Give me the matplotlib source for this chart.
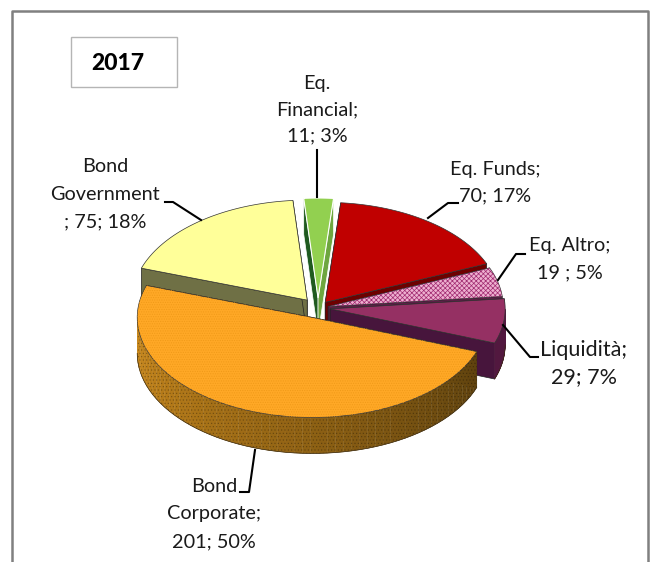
import numpy as np
import matplotlib
matplotlib.use('Agg')
import matplotlib.pyplot as plt
from matplotlib.patches import Polygon, Rectangle
from matplotlib.colors import to_rgb

categories = ['Eq. Financial', 'Eq. Funds', 'Eq. Altro', 'Liquidità', 'Bond Corporate', 'Bond Government']
values = [11, 70, 19, 29, 201, 75]
explode = [0.10, 0.07, 0.06, 0.07, 0.10, 0.10]
top_colors = ['#92d050', '#c00000', '#eeb0d0', '#953063', '#ffa826', '#ffff99']
wall_colors = ['#1f5a1f', '#6e0000', '#5a1f45', '#47153c', '#7a5010', '#6f7045']
hatches = [None, None, 'xxxxxxx', None, '.......', None]
draw_order = [5, 0, 1, 2, 3, 4]

plt.rcParams['font.family'] = ['Lato', 'DejaVu Sans']
plt.rcParams['hatch.linewidth'] = 0.5

cx, cy = 318, 308
rx, ry = 175, 100
depth = 36
start = -4.7

fig = plt.figure(figsize=(6.53, 5.62), dpi=100)
ax = fig.add_axes([0, 0, 1, 1])
ax.set_xlim(0, 653)
ax.set_ylim(562, 0)
ax.axis('off')

# outer frame, open at the bottom
ax.plot([12, 12, 648, 648], [562, 11, 11, 562], color='#808080', lw=1.8)
ax.add_patch(Rectangle((71, 37), 106, 50, fc='white', ec='#b5b5b5', lw=1))
ax.text(118, 64, '2017', fontsize=16.5, fontweight='black', ha='center', va='center', color='black')

total = sum(values)
edges = start + np.cumsum([0] + values) / total * 360


def point(t, i, r=1.0):
    # t in degrees clockwise from the top of the pie
    mid = np.radians((edges[i] + edges[i + 1]) / 2)
    a = np.radians(t)
    x = cx + rx * (explode[i] * np.sin(mid) + r * np.sin(a))
    y = cy - ry * (explode[i] * np.cos(mid) + r * np.cos(a))
    return x, y


for i in draw_order:
    t0, t1 = edges[i], edges[i + 1]
    tip = point(t0, i, 0)
    p0 = point(t0, i)
    p1 = point(t1, i)

    # radial walls
    for p, col in [(p0, wall_colors[i]), (p1, '#6ea63f' if i == 0 else wall_colors[i])]:
        wall = [p, tip, (tip[0], tip[1] + depth), (p[0], p[1] + depth)]
        ax.add_patch(Polygon(wall, fc=col, ec='white' if i == 0 else '#222222', lw=0.5))

    # outer rim, only the part facing the viewer
    lo, hi = max(t0, 90), min(t1, 270)
    if hi > lo:
        ts = np.linspace(lo, hi, 60)
        for a, b in zip(ts[:-1], ts[1:]):
            f = (a - lo) / (hi - lo)
            if i == 4:
                col = np.array(to_rgb('#5f420e')) * (1 - f) + np.array(to_rgb('#cc8a1c')) * f
            else:
                col = to_rgb('#52183f')
            pa, pb = point(a, i), point(b, i)
            ax.add_patch(Polygon([pa, pb, (pb[0], pb[1] + depth), (pa[0], pa[1] + depth)],
                                 fc=col, ec=col, lw=0.3))
        arc = [point(a, i) for a in ts]
        low = [(x, y + depth) for x, y in arc]
        ax.plot(*zip(*low), color='#3a2a10', lw=0.5)
        if hatches[i]:
            ax.add_patch(Polygon(arc + low[::-1], fc='none', ec='#00000040', hatch='.....', lw=0))

    # top surface
    ts = np.linspace(t0, t1, 80)
    top = [tip] + [point(a, i) for a in ts]
    ax.add_patch(Polygon(top, fc=top_colors[i], ec='white' if i == 0 else '#333333', lw=0.8 if i == 0 else 0.5))
    if hatches[i] == 'xxxxxxx':
        ax.add_patch(Polygon(top, fc='none', ec='#a02a70', hatch=hatches[i], lw=0))
    elif hatches[i]:
        ax.add_patch(Polygon(top, fc='none', ec='#f09a18', hatch=hatches[i], lw=0))

# leader lines
leaders = [
    ([317, 317], [150, 197]),
    ([428, 448, 458], [218, 203, 203]),
    ([498, 516, 525], [280, 254, 254]),
    ([503, 530, 538], [325, 357, 357]),
    ([255, 249, 240], [450, 492, 492]),
    ([201, 173, 165], [220, 202, 202]),
]
for xs, ys in leaders:
    ax.plot(xs, ys, color='black', lw=1.5, solid_joinstyle='round')

labels = [
    ('Eq.', 317, 83, 14.3), ('Financial;', 317, 110, 14.3), ('11; 3%', 317, 136, 14.3),
    ('Eq. Funds;', 495, 169, 14.3), ('70; 17%', 495, 196, 14.3),
    ('Eq. Altro;', 570, 246, 14.3), ('19 ; 5%', 570, 273, 14.3),
    ('Liquidità;', 584, 350, 15.5), ('29; 7%', 584, 377, 15.5),
    ('Bond', 105, 167, 14.3), ('Government', 105, 194, 14.3), ('; 75; 18%', 105, 222, 14.3),
    ('Bond', 214, 487, 14.3), ('Corporate;', 214, 514, 14.3), ('201; 50%', 214, 542, 14.3),
]
for txt, x, y, size in labels:
    ax.text(x, y, txt, fontsize=size, ha='center', va='center', color='#1a1a1a')

fig.savefig('out.png', dpi=100)
